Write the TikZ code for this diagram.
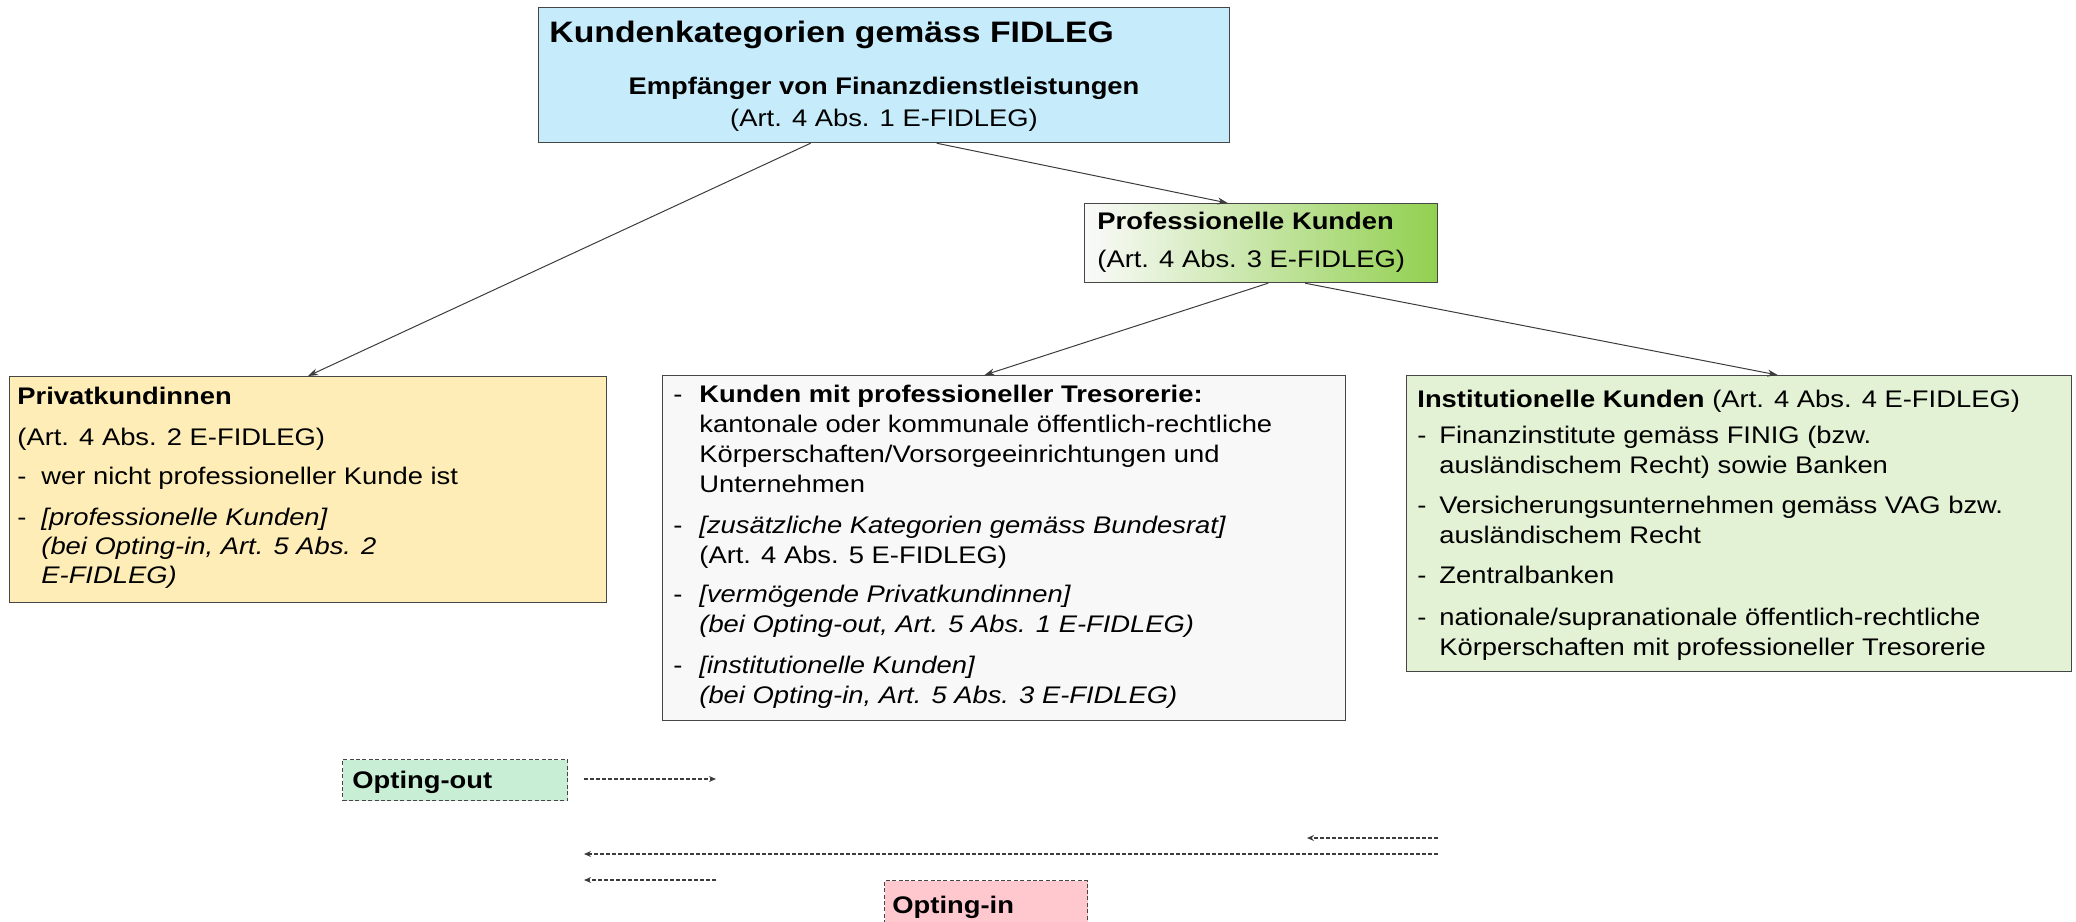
\documentclass[tikz,border=0pt]{standalone}
\usepackage{fontspec}
\setmainfont{Liberation Sans}[FakeStretch=1.14]
\usetikzlibrary{arrows.meta,calc}
\definecolor{boxline}{RGB}{70,70,70}
\definecolor{connline}{RGB}{60,60,60}
\definecolor{dashline}{RGB}{60,60,60}
\definecolor{topfill}{RGB}{198,235,250}
\definecolor{profL}{RGB}{250,250,250}
\definecolor{profM}{RGB}{212,212,212}
\definecolor{profR}{RGB}{146,208,80}
\definecolor{privfill}{RGB}{254,237,182}
\definecolor{midfill}{RGB}{248,248,248}
\definecolor{instfill}{RGB}{227,241,212}
\definecolor{outfill}{RGB}{200,238,214}
\definecolor{infill}{RGB}{255,200,206}
\newcommand\dsh[1]{\makebox[#1][l]{-}}
\newcommand\tstr{\rule{0pt}{10pt}}
\begin{document}
\begin{tikzpicture}[x=0.5pt,y=-0.5pt,
  box/.style={draw=boxline, line width=0.6pt, inner sep=0pt, anchor=north west},
  dbox/.style={box, dash pattern=on 2pt off 1.2pt},
  txt/.style={inner sep=0pt, align=left, anchor=north west, font=\fontsize{12}{15}\selectfont},
  lbl/.style={inner sep=0pt, anchor=base west, font=\fontsize{12}{15}\selectfont},
  bl/.style={font=\bfseries\fontsize{12}{15}\selectfont},
  conn/.style={draw=connline, line width=0.5pt, -{Stealth[length=5pt,width=3.5pt]}},
  dconn/.style={draw=dashline, line width=0.7pt, dash pattern=on 2pt off 1pt, -{Stealth[length=3.5pt,width=3pt]}}
]
\useasboundingbox (0,0) rectangle (2076,921);
\clip (0,0) rectangle (2076,921);

% top box
\node[box, fill=topfill, minimum width=345.5pt, minimum height=67.5pt] (top) at (538,7) {};
\node[lbl, font=\bfseries\fontsize{14.8}{17}\selectfont] (title) at (549,42) {Kundenkategorien gemäss FIDLEG};
\node[lbl, bl, anchor=base] (empf) at (884,94) {Empfänger von Finanzdienstleistungen};
\node[lbl, anchor=base] (art1) at (884,126) {(Art. 4 Abs. 1 E-FIDLEG)};

% professionelle Kunden
\node[box, left color=profL, middle color=profM, right color=profR, minimum width=176.5pt, minimum height=39.5pt] (prof) at (1084,203) {};
\node[lbl, bl] (proft) at (1097,229) {Professionelle Kunden};
\node[lbl] (profa) at (1097,267) {(Art. 4 Abs. 3 E-FIDLEG)};

% Privatkundinnen
\node[box, fill=privfill, minimum width=298.5pt, minimum height=113pt] (privat) at (9,376) {};
\node[txt, font=\fontsize{12}{14.5}\selectfont] (privatt) at (17,384) {\tstr\textbf{Privatkundinnen}\\[6pt]
(Art. 4 Abs. 2 E-FIDLEG)\\[5pt]
\dsh{12pt}wer nicht professioneller Kunde ist\\[6pt]
\dsh{12pt}\textit{[professionelle Kunden]}\\
\hspace*{12pt}\textit{(bei Opting-in, Art. 5 Abs. 2}\\
\hspace*{12pt}\textit{E-FIDLEG)}};

% middle box
\node[box, fill=midfill, minimum width=341.5pt, minimum height=172.5pt] (mid) at (662,375) {};
\node[txt] (midt) at (673,382) {\tstr\dsh{13pt}\textbf{Kunden mit professioneller Tresorerie:}\\
\hspace*{13pt}kantonale oder kommunale öffentlich-rechtliche\\
\hspace*{13pt}Körperschaften/Vorsorgeeinrichtungen und\\
\hspace*{13pt}Unternehmen\\[5.5pt]
\dsh{13pt}\textit{[zusätzliche Kategorien gemäss Bundesrat]}\\
\hspace*{13pt}(Art. 4 Abs. 5 E-FIDLEG)\\[4.5pt]
\dsh{13pt}\textit{[vermögende Privatkundinnen]}\\
\hspace*{13pt}\textit{(bei Opting-out, Art. 5 Abs. 1 E-FIDLEG)}\\[5.5pt]
\dsh{13pt}\textit{[institutionelle Kunden]}\\
\hspace*{13pt}\textit{(bei Opting-in, Art. 5 Abs. 3 E-FIDLEG)}};

% institutionelle Kunden
\node[box, fill=instfill, minimum width=332.5pt, minimum height=148pt] (inst) at (1406,375) {};
\node[txt] (instt) at (1417,387) {\tstr\textbf{Institutionelle Kunden} (Art. 4 Abs. 4 E-FIDLEG)\\[3pt]
\dsh{11pt}Finanzinstitute gemäss FINIG (bzw.\\
\hspace*{11pt}ausländischem Recht) sowie Banken\\[5pt]
\dsh{11pt}Versicherungsunternehmen gemäss VAG bzw.\\
\hspace*{11pt}ausländischem Recht\\[5pt]
\dsh{11pt}Zentralbanken\\[6pt]
\dsh{11pt}nationale/supranationale öffentlich-rechtliche\\
\hspace*{11pt}Körperschaften mit professioneller Tresorerie};

% opting boxes
\node[dbox, fill=outfill, minimum width=112.5pt, minimum height=20.5pt] (out) at (342,759) {};
\node[lbl, bl] (outt) at (352,788) {Opting-out};
\node[dbox, fill=infill, minimum width=101.5pt, minimum height=30pt] (in) at (884,880) {};
\node[lbl, bl] (int) at (892,913) {Opting-in};

% connectors
\draw[conn] ($(top.south)+(-73.5,0)$) -- (privat.north);
\draw[conn] ($(top.south)+(52.5,0)$) -- ($(prof.north)+(-33.5,0)$);
\draw[conn] ($(prof.south)+(7,0)$) -- ($(mid.north)+(-19.5,0)$);
\draw[conn] ($(prof.south)+(44,0)$) -- ($(inst.north)+(38.5,0)$);

% dashed arrows
\coordinate (o1s) at (584,779);
\coordinate (o1e) at (716,779);
\coordinate (i1s) at (1438,838);
\coordinate (i1e) at (1307,838);
\coordinate (i2s) at (1438,854);
\coordinate (i2e) at (584,854);
\coordinate (i3s) at (716,880);
\coordinate (i3e) at (584,880);
\draw[dconn] (o1s) -- (o1e);
\draw[dconn] (i1s) -- (i1e);
\draw[dconn] (i2s) -- (i2e);
\draw[dconn] (i3s) -- (i3e);
\end{tikzpicture}
\end{document}
